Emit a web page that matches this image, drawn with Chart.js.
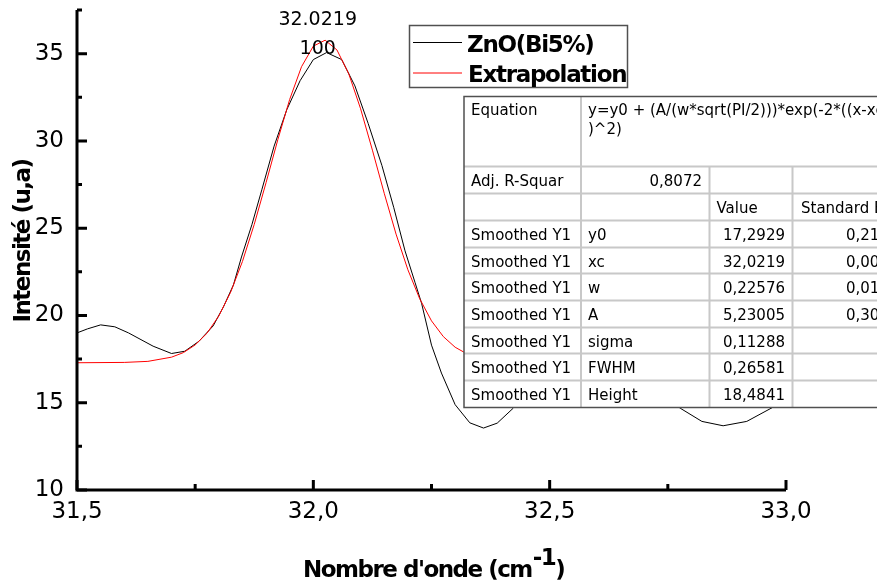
<!DOCTYPE html>
<html>
<head>
<meta charset="utf-8">
<script src="https://cdn.jsdelivr.net/npm/chart.js@4.4.0/dist/chart.umd.min.js"></script>
<style>
  html, body { margin: 0; padding: 0; background: #fff; }
  #wrap { width: 877px; height: 586px; }
</style>
</head>
<body>
<div id="wrap"><canvas id="fitChart" width="877" height="586"></canvas></div>
<script>
// measured spectrum, ZnO doped 5% Bi
var bi5X = [31.500, 31.522, 31.550, 31.580, 31.609, 31.661, 31.700, 31.728, 31.758, 31.788,
            31.810, 31.831, 31.848, 31.870, 31.891, 31.917, 31.944, 31.972, 32.000, 32.028,
            32.060, 32.088, 32.116, 32.145, 32.170, 32.194, 32.215, 32.229, 32.250, 32.271,
            32.300, 32.331, 32.360, 32.389, 32.423, 32.470, 32.530, 32.600, 32.670, 32.730,
            32.776, 32.822, 32.867, 32.917, 32.973, 33.000];
var bi5Y = [19.00, 19.23, 19.46, 19.35, 19.00, 18.24, 17.82, 17.95, 18.52, 19.40,
            20.50, 21.75, 23.35, 25.20, 27.20, 29.70, 31.80, 33.45, 34.66, 35.06,
            34.66, 33.15, 31.00, 28.60, 26.20, 23.70, 21.90, 20.70, 18.30, 16.70,
            14.89, 13.85, 13.55, 13.83, 14.69, 16.00, 17.20, 17.60, 16.80, 15.60,
            14.69, 13.93, 13.68, 13.93, 14.75, 15.30];

// gaussian fit curve
var fitX = [31.50, 31.60, 31.65, 31.70, 31.725, 31.75, 31.775, 31.80, 31.825, 31.85,
            31.875, 31.90, 31.925, 31.95, 31.975, 32.00, 32.025, 32.05, 32.075, 32.10,
            32.125, 32.15, 32.175, 32.20, 32.225, 32.25, 32.275, 32.30, 32.325, 32.35,
            32.40, 32.45, 32.50, 32.60, 32.80, 33.00];
var fitY = [17.29, 17.31, 17.37, 17.61, 17.87, 18.31, 18.98, 19.97, 21.33, 23.09,
            25.22, 27.61, 30.08, 32.38, 34.25, 35.43, 35.77, 35.21, 33.84, 31.84,
            29.47, 27.00, 24.66, 22.62, 20.96, 19.69, 18.79, 18.18, 17.80, 17.56,
            17.36, 17.31, 17.30, 17.29, 17.29, 17.29];

var seriesNames = ['ZnO(Bi5%)', 'Extrapolation'];
var peakPos = 32.0219;
var peakTop = 35.777;
var peakLabels = ['32.0219', '100'];

// fit report
var eqLines = ['y=y0 + (A/(w*sqrt(PI/2)))*exp(-2*((x-xc)/w', ')^2)'];
var adjR2 = '0,8072';
var paramNames = ['y0', 'xc', 'w', 'A', 'sigma', 'FWHM', 'Height'];
var paramValues = ['17,2929', '32,0219', '0,22576', '5,23005', '0,11288', '0,26581', '18,4841'];
var paramErrors = ['0,21478', '0,00264', '0,01032', '0,30127', '', '', ''];

var xTicks = [31.5, 32.0, 32.5, 33.0];
var yTicks = [10, 15, 20, 25, 30, 35];

function toPoints(xs, ys) {
  var pts = [];
  for (var i = 0; i < xs.length; i++) pts.push({ x: xs[i], y: ys[i] });
  return pts;
}

function drawAxes(ctx, xs, ys, area) {
  ctx.strokeStyle = '#000';
  ctx.lineWidth = 3;
  ctx.beginPath();
  ctx.moveTo(area.left, area.top);
  ctx.lineTo(area.left, area.bottom + 1.5);
  ctx.moveTo(area.left - 1.5, area.bottom);
  ctx.lineTo(area.right, area.bottom);
  ctx.stroke();

  ctx.beginPath();
  for (var v = 10; v <= 37.5; v += 2.5) {
    var py = ys.getPixelForValue(v);
    var len = (v % 5 === 0) ? 10 : 5;
    ctx.moveTo(area.left, py);
    ctx.lineTo(area.left + len, py);
  }
  for (var k = 0; k <= 6; k++) {
    var xv = 31.5 + k * 0.25;
    var px = xs.getPixelForValue(xv);
    var l2 = (k % 2 === 0) ? 10 : 6;
    ctx.moveTo(px, area.bottom);
    ctx.lineTo(px, area.bottom - l2);
  }
  ctx.stroke();
}

function drawTable(ctx) {
  var cols = [464, 581, 709.5, 792.5, 912];
  var rows = [96.5, 166.5, 193.5, 220.5, 247.5, 273.5, 300.5, 327.5, 353.5, 380.5, 407.5];

  ctx.fillStyle = '#fff';
  ctx.fillRect(cols[0], rows[0], cols[4] - cols[0], rows[10] - rows[0]);

  // inner grid
  ctx.strokeStyle = '#c8c8c8';
  ctx.lineWidth = 2;
  ctx.beginPath();
  for (var r = 1; r < rows.length - 1; r++) {
    ctx.moveTo(cols[0], rows[r]);
    ctx.lineTo(cols[4], rows[r]);
  }
  ctx.moveTo(cols[1], rows[0]);
  ctx.lineTo(cols[1], rows[10]);
  ctx.moveTo(cols[2], rows[1]);
  ctx.lineTo(cols[2], rows[10]);
  ctx.moveTo(cols[3], rows[1]);
  ctx.lineTo(cols[3], rows[10]);
  ctx.stroke();

  // outer frame
  ctx.strokeStyle = '#505050';
  ctx.lineWidth = 1.5;
  ctx.strokeRect(cols[0], rows[0], cols[4] - cols[0], rows[10] - rows[0]);

  ctx.fillStyle = '#000';
  ctx.font = '15px "DejaVu Sans"';
  ctx.textBaseline = 'alphabetic';

  function cell(text, c, r, align, pad) {
    ctx.save();
    ctx.beginPath();
    ctx.rect(cols[c], rows[r], cols[c + 1] - cols[c], rows[r + 1] - rows[r]);
    ctx.clip();
    var by = rows[r] + 19;
    if (align === 'right') {
      ctx.textAlign = 'right';
      ctx.fillText(text, cols[c + 1] - (pad || 7.5), by);
    } else {
      ctx.textAlign = 'left';
      ctx.fillText(text, cols[c] + (pad || 7), by);
    }
    ctx.restore();
  }

  ctx.textAlign = 'left';
  ctx.fillText('Equation', 471, 115);
  ctx.fillText(eqLines[0], 588, 115);
  ctx.fillText(eqLines[1], 588, 133.5);

  cell('Adj. R-Squar', 0, 1, 'left');
  cell(adjR2, 1, 1, 'right');
  cell('Value', 2, 2, 'left');
  cell('Standard Error', 3, 2, 'left', 8.5);
  for (var i = 0; i < paramNames.length; i++) {
    cell('Smoothed Y1', 0, i + 3, 'left');
    cell(paramNames[i], 1, i + 3, 'left');
    cell(paramValues[i], 2, i + 3, 'right');
    if (paramErrors[i]) cell(paramErrors[i], 3, i + 3, 'right', 4);
  }
}

function drawLegend(ctx) {
  ctx.strokeStyle = '#505050';
  ctx.lineWidth = 1.5;
  ctx.strokeRect(409.5, 25.5, 218, 62);

  ctx.lineWidth = 1;
  ctx.strokeStyle = '#000';
  ctx.beginPath();
  ctx.moveTo(413, 42.5);
  ctx.lineTo(462, 42.5);
  ctx.stroke();
  ctx.strokeStyle = '#ff0000';
  ctx.beginPath();
  ctx.moveTo(413, 73);
  ctx.lineTo(462, 73);
  ctx.stroke();

  ctx.fillStyle = '#000';
  ctx.font = 'bold 23px "DejaVu Sans"';
  ctx.letterSpacing = '-1.3px';
  ctx.textAlign = 'left';
  ctx.textBaseline = 'alphabetic';
  ctx.fillText(seriesNames[0], 467, 51.5);
  ctx.fillText(seriesNames[1], 468, 81.5);
  ctx.letterSpacing = '0px';
}

function drawTitles(ctx) {
  ctx.fillStyle = '#000';
  ctx.font = 'bold 23px "DejaVu Sans"';
  ctx.letterSpacing = '-1.5px';
  ctx.textBaseline = 'alphabetic';

  // x title with superscript
  var main = "Nombre d'onde (cm";
  var sup = '-1';
  var x0 = 303;
  ctx.textAlign = 'left';
  ctx.fillText(main, x0, 577);
  var w1 = ctx.measureText(main).width;
  ctx.fillText(sup, x0 + w1 + 1, 565);
  var w2 = ctx.measureText(sup).width;
  ctx.fillText(')', x0 + w1 + w2 + 1, 577);

  // y title
  ctx.save();
  ctx.translate(29.5, 241);
  ctx.rotate(-Math.PI / 2);
  ctx.textAlign = 'center';
  ctx.fillText('Intensité (u,a)', 0, 0);
  ctx.restore();
  ctx.letterSpacing = '0px';
}

function drawPeakLabels(ctx, xs, ys) {
  var px = xs.getPixelForValue(peakPos) - 6;
  var py = ys.getPixelForValue(peakTop);
  ctx.fillStyle = '#000';
  ctx.font = '19px "DejaVu Sans"';
  ctx.textAlign = 'center';
  ctx.textBaseline = 'alphabetic';
  ctx.fillText(peakLabels[0], px, py - 15);
  ctx.fillText(peakLabels[1], px, py + 14);
}

var decorations = {
  id: 'decorations',
  afterDatasetsDraw: function (chart) {
    var ctx = chart.ctx;
    var xs = chart.scales.x, ys = chart.scales.y;
    ctx.save();
    drawPeakLabels(ctx, xs, ys);
    drawAxes(ctx, xs, ys, chart.chartArea);
    drawTable(ctx);
    drawLegend(ctx);
    drawTitles(ctx);
    ctx.restore();
  }
};

Chart.defaults.font.family = '"DejaVu Sans"';
Chart.defaults.color = '#000';

var chart = new Chart(document.getElementById('fitChart').getContext('2d'), {
  type: 'scatter',
  data: {
    datasets: [{
      label: seriesNames[1],
      data: toPoints(fitX, fitY),
      showLine: true,
      borderColor: '#ff0000',
      borderWidth: 1,
      pointRadius: 0,
      tension: 0,
      order: 0
    }, {
      label: seriesNames[0],
      data: toPoints(bi5X, bi5Y),
      showLine: true,
      borderColor: '#000000',
      borderWidth: 1,
      pointRadius: 0,
      tension: 0,
      order: 1
    }]
  },
  options: {
    responsive: false,
    animation: false,
    devicePixelRatio: 1,
    layout: { padding: { left: 0, right: 91, top: 10, bottom: 0 } },
    plugins: { legend: { display: false }, tooltip: { enabled: false } },
    scales: {
      x: {
        type: 'linear',
        min: 31.5,
        max: 33.0,
        border: { display: false },
        grid: { display: false, drawTicks: false },
        afterBuildTicks: function (s) { s.ticks = xTicks.map(function (v) { return { value: v }; }); },
        ticks: {
          padding: 8,
          maxRotation: 0,
          font: { size: 23 },
          callback: function (v) { return v.toFixed(1).replace('.', ','); }
        },
        afterFit: function (s) {
          s.height = 96;
          s.paddingLeft = 0;
          s.paddingRight = 0;
        }
      },
      y: {
        type: 'linear',
        min: 10,
        max: 37.5,
        border: { display: false },
        grid: { display: false, drawTicks: false },
        afterBuildTicks: function (s) { s.ticks = yTicks.map(function (v) { return { value: v }; }); },
        ticks: {
          padding: 13,
          font: { size: 23 },
          callback: function (v) { return String(v); }
        },
        afterFit: function (s) {
          s.width = 77;
          s.paddingTop = 0;
          s.paddingBottom = 0;
        }
      }
    }
  },
  plugins: [decorations]
});
</script>
</body>
</html>
